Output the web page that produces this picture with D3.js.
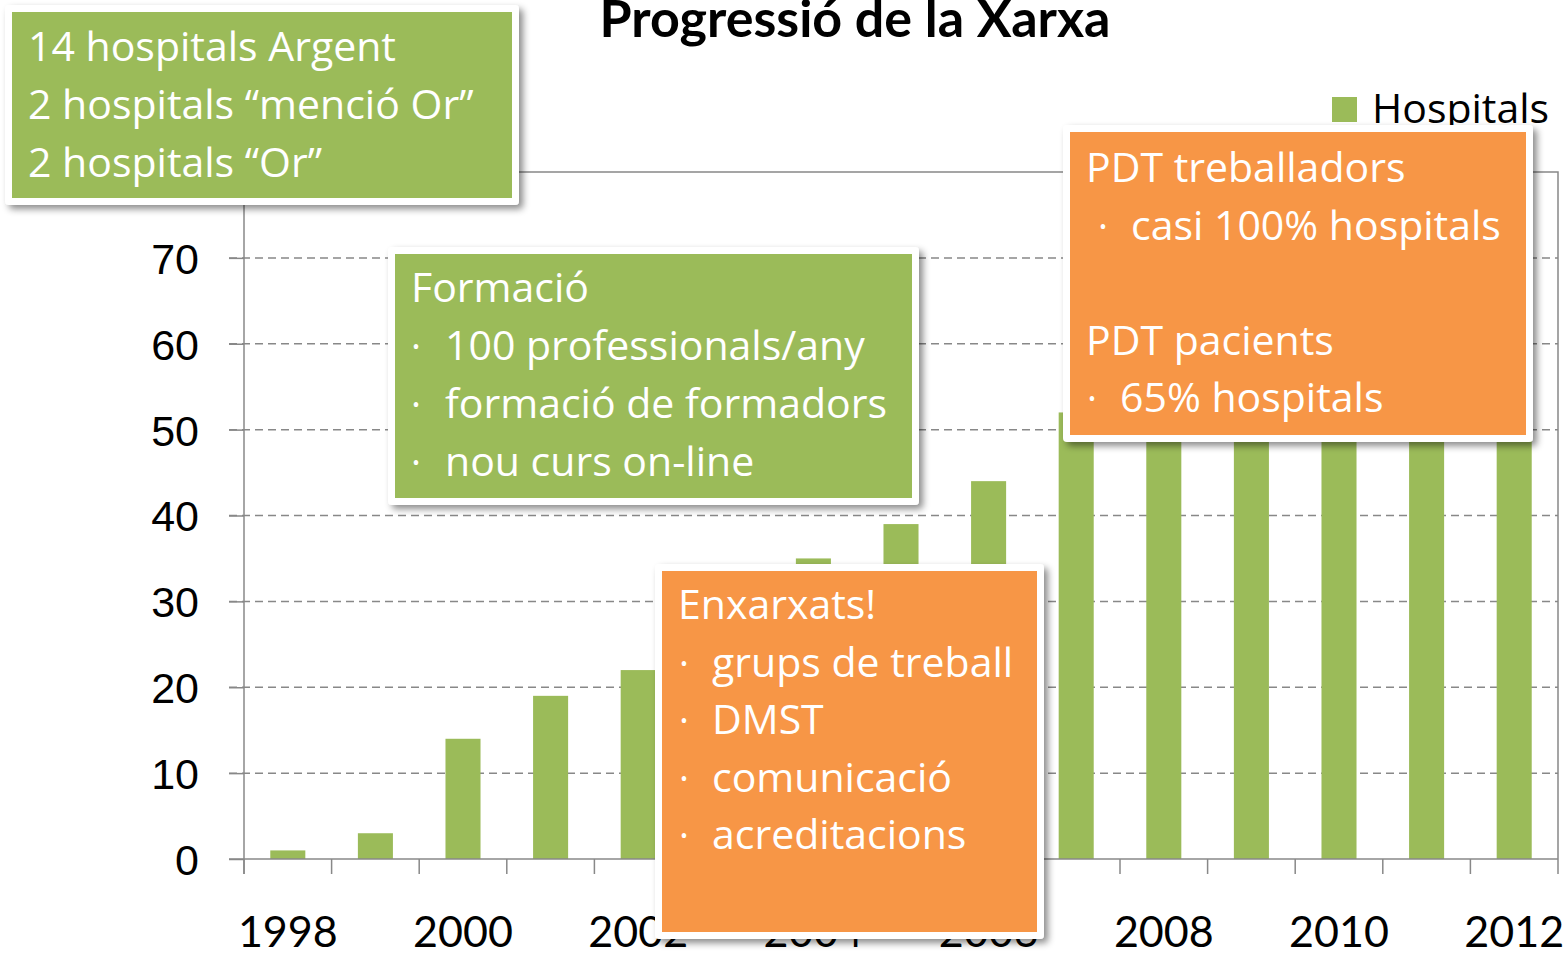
<!DOCTYPE html>
<html>
<head>
<meta charset="utf-8">
<script src="https://cdn.jsdelivr.net/npm/d3@7"></script>
<style>
  body { margin: 0; background: #fff; }
  svg { display: block; font-family: Lato, "Open Sans", sans-serif; }
  .note-text { font-family: "Open Sans", Lato, sans-serif; }
</style>
</head>
<body>
<svg id="chart" width="1565" height="953"></svg>
<script>
// Data
const years = ['1998','1999','2000','2001','2002','2003','2004','2005','2006','2007','2008','2009','2010','2011','2012'];
const hospitals = [1, 3, 14, 19, 22, 28, 35, 39, 44, 52, 57, 60, 63, 65, 66];
const yTicks = [0, 10, 20, 30, 40, 50, 60, 70];
const xLabels = ['1998','2000','2002','2004','2006','2008','2010','2012'];

const noteTop = ['14 hospitals Argent', '2 hospitals “menció Or”', '2 hospitals “Or”'];
const noteFormacio = ['Formació', '100 professionals/any', 'formació de formadors', 'nou curs on-line'];
const noteXarxa = ['Enxarxats!', 'grups de treball', 'DMST', 'comunicació', 'acreditacions'];
const notePdt = ['PDT treballadors', 'casi 100% hospitals', '', 'PDT pacients', '65% hospitals'];

const svg = d3.select('#chart');
const margin = {left: 244, right: 1558, top: 172, bottom: 859};
const green = '#9BBB59';
const orange = '#F79646';

const x = d3.scaleBand()
    .domain(years)
    .range([margin.left, margin.right])
    .paddingInner(0.6)
    .paddingOuter(0.3);

const y = d3.scaleLinear()
    .domain([0, 80])
    .range([margin.bottom, margin.top]);

// shadow filter
const defs = svg.append('defs');
const f = defs.append('filter').attr('id', 'shadow')
    .attr('x', '-10%').attr('y', '-10%').attr('width', '125%').attr('height', '130%');
f.append('feDropShadow')
    .attr('dx', 4).attr('dy', 4)
    .attr('stdDeviation', 3.5)
    .attr('flood-color', '#000')
    .attr('flood-opacity', 0.45);

// Title
svg.append('text')
    .attr('x', 855)
    .attr('y', 37)
    .attr('text-anchor', 'middle')
    .style('font-size', '52px')
    .style('font-weight', 'bold')
    .style('fill', '#000')
    .text('Progressió de la Xarxa');

// Grid lines
svg.append('g')
    .selectAll('line')
    .data(yTicks.filter(d => d > 0))
    .join('line')
    .attr('x1', margin.left - 15)
    .attr('x2', margin.right)
    .attr('y1', d => y(d))
    .attr('y2', d => y(d))
    .attr('stroke', '#888')
    .attr('stroke-width', 1.5)
    .attr('stroke-dasharray', '8,5');

// Plot frame (top and right)
svg.append('path')
    .attr('d', `M${margin.left},${margin.top}H${margin.right}V${margin.bottom}`)
    .attr('fill', 'none')
    .attr('stroke', '#888')
    .attr('stroke-width', 1.5);

// Bars
svg.append('g')
    .selectAll('rect')
    .data(years)
    .join('rect')
    .attr('x', d => x(d))
    .attr('width', x.bandwidth())
    .attr('y', (d, i) => y(hospitals[i]))
    .attr('height', (d, i) => y(0) - y(hospitals[i]))
    .attr('fill', green);

// Y axis
const yAxis = svg.append('g')
    .attr('transform', `translate(${margin.left},0)`)
    .call(d3.axisLeft(y).tickValues(yTicks).tickSize(15).tickPadding(30));
yAxis.select('.domain').attr('d', `M0,${margin.top}V${margin.bottom + 15}`);
yAxis.selectAll('line, path').attr('stroke', '#888').attr('stroke-width', 1.5);
yAxis.selectAll('text')
    .style('font-size', '43px')
    .style('fill', '#000')
    .attr('dy', '0.36em');

// X axis
const step = x.step();
const xTickPos = d3.range(years.length + 1).map(i => margin.left + i * step);
const xAxisG = svg.append('g');
xAxisG.append('line')
    .attr('x1', margin.left - 15).attr('x2', margin.right)
    .attr('y1', margin.bottom).attr('y2', margin.bottom)
    .attr('stroke', '#888').attr('stroke-width', 1.5);
xAxisG.selectAll('.xtick')
    .data(xTickPos)
    .join('line')
    .attr('class', 'xtick')
    .attr('x1', d => d).attr('x2', d => d)
    .attr('y1', margin.bottom).attr('y2', margin.bottom + 15)
    .attr('stroke', '#888').attr('stroke-width', 1.5);
xAxisG.selectAll('.xlabel')
    .data(xLabels)
    .join('text')
    .attr('class', 'xlabel')
    .attr('x', d => x(d) + x.bandwidth() / 2)
    .attr('y', 947)
    .attr('text-anchor', 'middle')
    .style('font-size', '43px')
    .style('fill', '#000')
    .text(d => d);

// Legend
svg.append('rect')
    .attr('x', 1332).attr('y', 97)
    .attr('width', 25).attr('height', 25)
    .attr('fill', green);
svg.append('text')
    .attr('class', 'note-text')
    .attr('x', 1372).attr('y', 123)
    .style('font-size', '41px')
    .style('fill', '#000')
    .text('Hospitals');

// Annotation boxes
function note(box) {
    const g = svg.append('g');
    g.append('rect')
        .attr('x', box.x - 7).attr('y', box.y - 7)
        .attr('width', box.w + 14).attr('height', box.h + 14)
        .attr('rx', 4)
        .attr('fill', '#fff')
        .attr('filter', 'url(#shadow)');
    g.append('rect')
        .attr('x', box.x).attr('y', box.y)
        .attr('width', box.w).attr('height', box.h)
        .attr('fill', box.color);
    box.lines.forEach((t, i) => {
        if (!t) return;
        const ty = box.y + box.first + i * box.lh;
        const bullet = box.bullets && box.bullets[i];
        if (bullet) {
            g.append('text')
                .attr('class', 'note-text')
                .attr('x', box.x + bullet[0]).attr('y', ty)
                .style('font-size', '38px').style('fill', '#fff')
                .text('·');
        }
        g.append('text')
            .attr('class', 'note-text')
            .attr('x', box.x + (bullet ? bullet[1] : 16))
            .attr('y', ty)
            .style('font-size', '41px')
            .style('fill', '#fff')
            .text(t);
    });
}

note({x: 12, y: 12, w: 500, h: 186, color: green, lines: noteTop,
      first: 49, lh: 58});
note({x: 395, y: 254, w: 517, h: 244, color: green, lines: noteFormacio,
      first: 48, lh: 58,
      bullets: [null, [16, 50], [16, 50], [16, 50]]});
note({x: 662, y: 571, w: 375, h: 361, color: orange, lines: noteXarxa,
      first: 48, lh: 57.5,
      bullets: [null, [17, 50], [17, 50], [17, 50], [17, 50]]});
note({x: 1070, y: 132, w: 456, h: 303, color: orange, lines: notePdt,
      first: 50, lh: 57.5,
      bullets: [null, [28, 61], null, null, [17, 50]]});
</script>
</body>
</html>
